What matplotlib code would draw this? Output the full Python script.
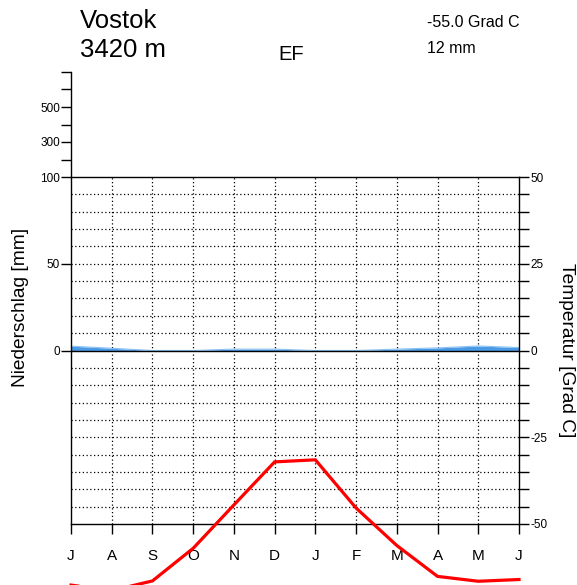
import matplotlib
matplotlib.use("Agg")
import matplotlib.pyplot as plt
import numpy as np

plt.rcParams['font.family'] = ['Liberation Sans', 'DejaVu Sans']

# Station data (southern hemisphere: year starts in July)
station = "Vostok"
elevation = "3420 m"
climate_class = "EF"
mean_temp_label = "-55.0 Grad C"
annual_precip_label = "12 mm"
months = ["J", "A", "S", "O", "N", "D", "J", "F", "M", "A", "M", "J"]
temperature = [-67.6, -69.2, -66.4, -57.0, -44.5, -32.1, -31.5, -45.4, -56.2, -65.1, -66.5, -66.0]
precipitation = [2.5, 1.3, 0.0, 0.0, 0.8, 0.8, 0.0, 0.0, 0.8, 1.5, 2.6, 1.7]

W, H = 577, 585
fig = plt.figure(figsize=(W / 100, H / 100), dpi=100)

def px_axes(x0, y0, x1, y1):
    return fig.add_axes([x0 / W, 1 - y1 / H, (x1 - x0) / W, (y1 - y0) / H])

x = np.arange(len(months))

# main climate panel: temperature scale -50..50, precipitation 2 mm per degree
ax = px_axes(71, 177, 519, 524)
ax.set_xlim(0, len(months) - 1)
ax.set_ylim(-50, 50)

# dotted grid
for g in range(-45, 50, 5):
    if g != 0:
        ax.axhline(g, color="black", lw=0.9, ls=(0, (1, 2)), zorder=1)
for xi in x[1:-1]:
    ax.axvline(xi, color="black", lw=0.9, ls=(0, (1, 2)), zorder=1)

p_scaled = np.array(precipitation) / 2.0
ax.fill_between(x, 0, p_scaled, color="#4a9ae6", lw=0, zorder=2)
ax.plot(x, p_scaled, color="#8cc2f2", lw=0.8, zorder=2)
ax.axhline(0, color="black", lw=1.0, zorder=3)

ax.plot(x, temperature, color="#ff0000", lw=2.3, clip_on=False, zorder=5,
        solid_joinstyle="miter")

for s in ax.spines.values():
    s.set_linewidth(1.0)

ax.set_xticks(x)
ax.set_xticklabels(months, fontsize=11)
ax.tick_params(axis="x", direction="out", length=7, width=1.0, pad=11)

ax.set_yticks([0, 25, 50])
ax.set_yticklabels(["0", "50", "100"], fontsize=8.5)
ax.tick_params(axis="y", direction="out", length=7, width=1.0, pad=1)
ax.set_ylabel("Niederschlag [mm]", fontsize=13.8)
ax.yaxis.set_label_coords(-0.094, 0.625)

axr = ax.twinx()
axr.set_ylim(-50, 50)
axr.set_yticks([-50, -25, 0, 25, 50])
axr.set_yticklabels(["-50", "-25", "0", "25", "50"], fontsize=8.5)
axr.set_yticks(np.arange(-45, 50, 5), minor=True)
axr.tick_params(axis="y", which="both", direction="out", length=7, width=1.0, pad=1)
axr.set_ylabel("Temperatur [Grad C]", fontsize=13.8, rotation=-90)
axr.yaxis.set_label_coords(1.124, 0.5)
for s in axr.spines.values():
    s.set_visible(False)

# compressed precipitation scale above 100 mm
axu = px_axes(71, 72, 519, 177)
axu.set_xlim(0, 1)
axu.set_ylim(100, 700)
axu.patch.set_visible(False)
for side in ["top", "right", "bottom"]:
    axu.spines[side].set_visible(False)
axu.spines["left"].set_linewidth(1.0)
axu.set_xticks([])
axu.set_yticks([200, 300, 400, 500, 600, 700])
axu.set_yticklabels(["", "300", "", "500", "", ""], fontsize=8.5)
axu.tick_params(axis="y", direction="out", length=7, width=1.0, pad=1)

# header text
def ftext(px, py, s, **kw):
    fig.text(px / W, 1 - py / H, s, **kw)

ftext(80, 28, station, fontsize=18.5, va="baseline")
ftext(80, 57, elevation, fontsize=18.5, va="baseline")
ftext(278, 60, climate_class, fontsize=14.5, va="baseline")
ftext(427, 27, mean_temp_label, fontsize=11.5, va="baseline")
ftext(427, 53, annual_precip_label, fontsize=11.5, va="baseline")

fig.savefig("out.png", dpi=100)
